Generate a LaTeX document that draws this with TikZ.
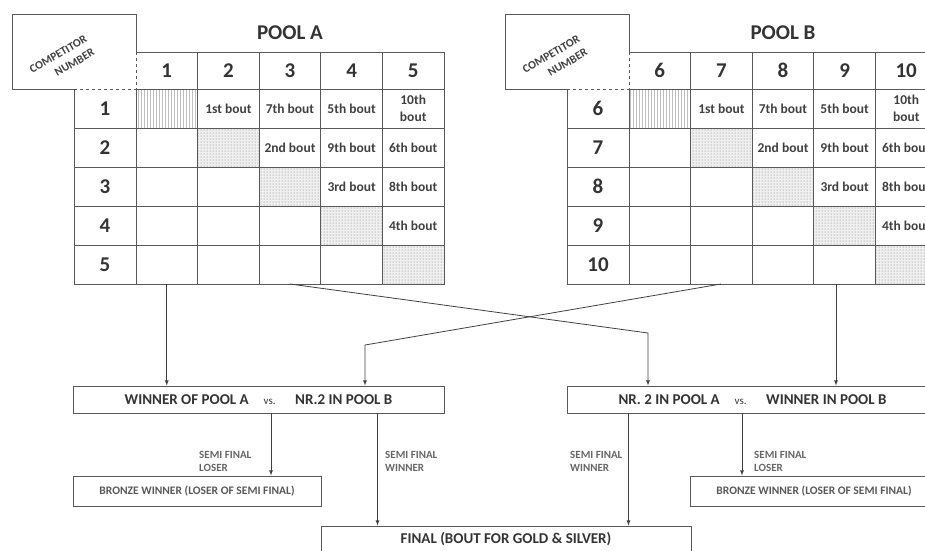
\documentclass[tikz,border=0pt]{standalone}
\usepackage{fontspec}
\setmainfont{Carlito}
\usepackage{tikz}
\usetikzlibrary{arrows,patterns,calc}
\tikzstyle{grid}=[draw=black!65, line width=0.9pt]
\tikzstyle{nr}=[font=\bfseries\fontsize{21}{23}\selectfont, text=black!80]
\tikzstyle{bout}=[font=\bfseries\fontsize{13.5}{17}\selectfont, text=black!75, align=center, inner sep=0pt]
\tikzstyle{pooltitle}=[font=\bfseries\fontsize{21}{23}\selectfont, text=black!80]
\tikzstyle{compnr}=[font=\bfseries\fontsize{11.5}{15}\selectfont, rotate=30, align=right, text=black!75, inner sep=0pt]
\tikzstyle{semibox}=[draw=black!65, line width=0.9pt, inner sep=0pt,
minimum width=371pt, minimum height=27pt, font=\bfseries\fontsize{15}{17}\selectfont, text=black!80]
\tikzstyle{bronzebox}=[draw=black!65, line width=0.9pt, inner sep=0pt,
minimum width=248pt, minimum height=30pt, font=\bfseries\fontsize{11.5}{13}\selectfont, text=black!65]
\tikzstyle{finalbox}=[draw=black!65, line width=0.9pt, inner sep=0pt,
minimum width=370pt, minimum height=26pt, font=\bfseries\fontsize{15}{17}\selectfont, text=black!80]
\tikzstyle{semilbl}=[font=\bfseries\fontsize{11}{13}\selectfont, align=left, text=black!60, anchor=west, inner sep=0pt]
\tikzstyle{dgraph}=[-{latex[slant=0]}, draw=black!75, line width=0.8pt]
\newcommand{\vsword}{{\mdseries\fontsize{11}{13}\selectfont vs.}}

\begin{document}
\begin{tikzpicture}[x=1pt,y=-1pt]
\useasboundingbox (0,0) rectangle (925,550);
\clip (0,0) rectangle (925,550);
% the two pool tables
\foreach \p/\dx/\first in {A/0/1,B/493/6}{
\begin{scope}[xshift=\dx pt]
\fill[pattern=vertical lines, pattern color=black!25] (136,89) rectangle (197.6,128);
\foreach \k in {2,...,5}{
  \fill[black!6] ({136+61.6*(\k-1)},{89+39*(\k-1)}) rectangle ++(61.6,39);
  \fill[pattern=dots, pattern color=black!55] ({136+61.6*(\k-1)},{89+39*(\k-1)}) rectangle ++(61.6,39);
}
\draw[grid] (12,14) -- (136,14) -- (136,52) -- (444,52) -- (444,284) -- (74,284) -- (74,89) -- (12,89) -- cycle;
\draw[grid, dashed] (136,52) -- (136,89) -- (74,89);
\draw[grid] (136,89) -- (136,284);
\foreach \c in {1,...,4}
  \draw[grid] ({136+61.6*\c},52) -- ++(0,232);
\foreach \r in {0,...,4}
  \draw[grid] ({\r==0 ? 136 : 74},{89+39*\r}) -- (444,{89+39*\r});
\node[pooltitle] (title\p) at (290,33) {POOL \p};
\node[compnr] (comp\p) at (62,61) {COMPETITOR\\NUMBER};
\foreach \c in {1,...,5}{
  \pgfmathtruncatemacro{\n}{\first+\c-1}
  \node[nr] (\p-h\c) at ({136+61.6*(\c-0.5)},70.5) {\n};
  \node[nr] (\p-r\c) at (105,{89+39*(\c-0.5)}) {\n};
}
\foreach \r/\c/\t in {1/2/1st bout, 1/3/7th bout, 1/4/5th bout, 1/5/{10th\\bout},
  2/3/2nd bout, 2/4/9th bout, 2/5/6th bout, 3/4/3rd bout, 3/5/8th bout, 4/5/4th bout}
  \node[bout] (\p-\r\c) at ({136+61.6*(\c-0.5)},{89+39*(\r-0.5)}) {\t};
\end{scope}
}
% semi finals
\node[semibox] (semi1) at (258.5,399.5) {WINNER OF POOL A\hspace{1em}\vsword\hspace{1.3em}NR.2 IN POOL B};
\node[semibox] (semi2) at (752.5,399.5) {NR. 2 IN POOL A\hspace{1em}\vsword\hspace{1.3em}WINNER IN POOL B};
\node[bronzebox] (bronze1) at (197,491) {BRONZE WINNER (LOSER OF SEMI FINAL)};
\node[bronzebox] (bronze2) at (814,491) {BRONZE WINNER (LOSER OF SEMI FINAL)};
\node[finalbox] (final) at (506,539) {FINAL (BOUT FOR GOLD \& SILVER)};
\node[semilbl] (lose1) at (199,461) {SEMI FINAL\\LOSER};
\node[semilbl] (win1) at (385,461) {SEMI FINAL\\WINNER};
\node[semilbl] (win2) at (570,461) {SEMI FINAL\\WINNER};
\node[semilbl] (lose2) at (754,461) {SEMI FINAL\\LOSER};
% from the pools
\coordinate (Awin) at (166.8,284);
\coordinate (Asec) at (290,284);
\coordinate (Bsec) at (721,284);
\coordinate (Bwin) at (836,284);
\coordinate (Abend) at (648,333);
\coordinate (Bbend) at (365,345);
\draw[dgraph] (Awin) -- (Awin |- semi1.north);
\draw[dgraph] (Asec) -- (Abend) -- (Abend |- semi2.north);
\draw[dgraph] (Bsec) -- (Bbend) -- (Bbend |- semi1.north);
\draw[dgraph] (Bwin) -- (Bwin |- semi2.north);
% to bronze and final
\draw[dgraph] ([xshift=12.5pt]semi1.south) -- ([xshift=12.5pt]semi1.south |- bronze1.north);
\draw[dgraph] ([xshift=119pt]semi1.south) -- ([xshift=119pt]semi1.south |- final.north);
\draw[dgraph] ([xshift=-124pt]semi2.south) -- ([xshift=-124pt]semi2.south |- final.north);
\draw[dgraph] ([xshift=-10.5pt]semi2.south) -- ([xshift=-10.5pt]semi2.south |- bronze2.north);
\end{tikzpicture}
\end{document}
